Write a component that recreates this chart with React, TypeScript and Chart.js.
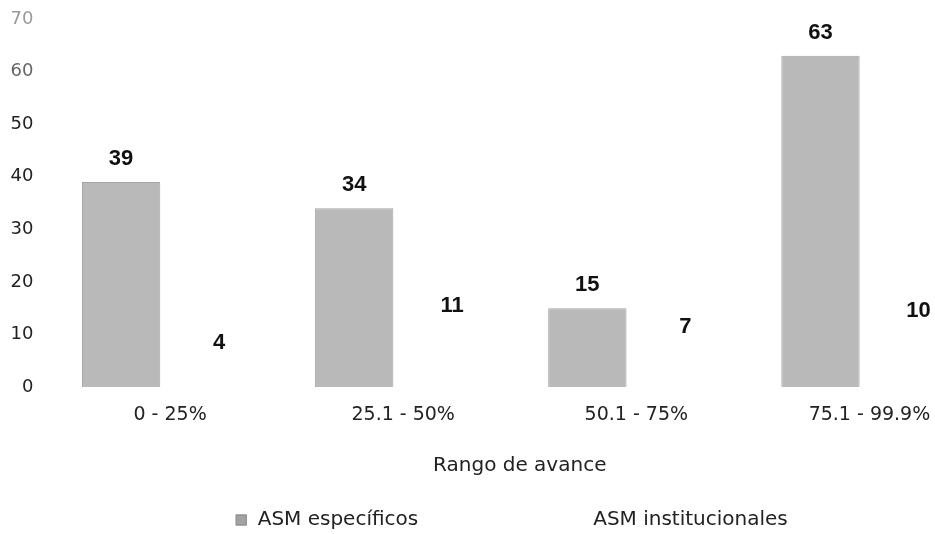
import React, { useEffect, useRef } from "react";
import { Chart, registerables } from "chart.js";

Chart.register(...registerables);

const categories = ["0 - 25%", "25.1 - 50%", "50.1 - 75%", "75.1 - 99.9%"];
const especificos = [39, 34, 15, 63];
const institucionales = [4, 11, 7, 10];
const seriesNames = ["ASM específicos", "ASM institucionales"];
const yMin = 0;
const yMax = 70;
const yStep = 10;
const xTitle = "Rango de avance";

const FONT = "'DejaVu Sans', sans-serif";
const BOLD = "'Liberation Sans', Arial, sans-serif";
const TEXT = "#222222";

const valueLabels = {
  id: "valueLabels",
  afterDatasetsDraw(chart: any) {
    const ctx = chart.ctx;
    ctx.save();
    ctx.fillStyle = "#111111";
    ctx.textAlign = "center";
    ctx.textBaseline = "alphabetic";
    ctx.font = `bold 22px ${BOLD}`;
    chart.data.datasets.forEach((ds: any, i: number) => {
      const meta = chart.getDatasetMeta(i);
      meta.data.forEach((el: any, j: number) => {
        ctx.fillText(String(ds.data[j]), el.x, el.y - 17);
      });
    });
    ctx.restore();
  },
};

const customLegend = {
  id: "customLegend",
  afterDraw(chart: any) {
    const ctx = chart.ctx;
    const area = chart.chartArea;
    ctx.save();
    ctx.font = `20px ${FONT}`;
    const box = 11;
    const gapBox = 11;
    const gapItems = 175;
    const names = chart.data.datasets.map((d: any) => d.label);
    const w0 = ctx.measureText(names[0]).width;
    const w1 = ctx.measureText(names[1]).width;
    const total = box + gapBox + w0 + gapItems + w1;
    const x = (area.left + area.right) / 2 - total / 2 - 8;
    const y = chart.height - 14;
    ctx.fillStyle = "#a3a3a3";
    ctx.fillRect(x, y - box / 2, box, box);
    ctx.strokeStyle = "#8a8a8a";
    ctx.lineWidth = 1;
    ctx.strokeRect(x + 0.5, y - box / 2 + 0.5, box - 1, box - 1);
    ctx.fillStyle = TEXT;
    ctx.textAlign = "left";
    ctx.textBaseline = "middle";
    ctx.fillText(names[0], x + box + gapBox, y);
    ctx.fillText(names[1], x + box + gapBox + w0 + gapItems, y);
    ctx.restore();
  },
};

export default function App() {
  const ref = useRef<HTMLCanvasElement | null>(null);

  useEffect(() => {
    if (!ref.current) return;
    const chart = new Chart(ref.current, {
      type: "bar",
      data: {
        labels: categories,
        datasets: [
          {
            label: seriesNames[0],
            data: especificos,
            backgroundColor: "#b9b9b9",
            borderColor: "#a3a3a3",
            borderWidth: 1,
            categoryPercentage: 0.84,
            barPercentage: 0.8,
          },
          {
            label: seriesNames[1],
            data: institucionales,
            backgroundColor: "rgba(255,255,255,0)",
            borderWidth: 0,
            categoryPercentage: 0.84,
            barPercentage: 0.8,
          },
        ],
      },
      options: {
        animation: false,
        responsive: true,
        maintainAspectRatio: false,
        layout: { padding: { left: 10, right: 54, top: 19, bottom: 52 } },
        plugins: {
          legend: { display: false },
          tooltip: { enabled: false },
        },
        scales: {
          x: {
            grid: { display: false, drawTicks: false },
            border: { display: false },
            ticks: { font: { family: FONT, size: 19 }, color: TEXT, padding: 17 },
            title: {
              display: true,
              text: xTitle,
              font: { family: FONT, size: 20 },
              color: TEXT,
              padding: { top: 30, bottom: 4 },
            },
            afterFit: (scale: any) => {
              scale.height = 95;
              scale.paddingLeft = 0;
              scale.paddingRight = 0;
            },
          },
          y: {
            min: yMin,
            max: yMax,
            grid: { display: false, drawTicks: false },
            border: { display: false },
            ticks: {
              stepSize: yStep,
              font: { family: FONT, size: 18 },
              padding: 20,
              color: (c: any) =>
                c.tick && c.tick.value === 70 ? "#9a9a9a" : c.tick && c.tick.value === 60 ? "#666666" : TEXT,
            },
            afterFit: (scale: any) => {
              scale.width = 43.5;
              scale.paddingTop = 0;
              scale.paddingBottom = 0;
            },
          },
        },
      },
      plugins: [valueLabels, customLegend],
    });
    return () => chart.destroy();
  }, []);

  return (
    <div
      style={{
        position: "fixed",
        left: 0,
        top: 0,
        width: 935,
        height: 534,
        overflow: "hidden",
        background: "#ffffff",
      }}
    >
      <div style={{ position: "relative", width: 1040, height: 534 }}>
        <canvas ref={ref} />
      </div>
    </div>
  );
}
